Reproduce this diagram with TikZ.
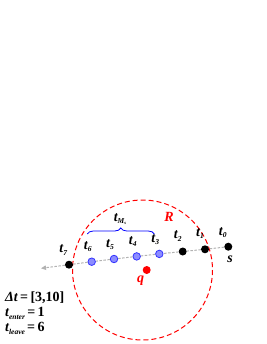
\documentclass[tikz,border=0pt]{standalone}
\usepackage{fontspec}
\setmainfont{Liberation Serif}
\usetikzlibrary{arrows.meta,decorations.pathreplacing}
\newcommand\tlab[1]{\textit{t}\raisebox{-0.35ex}{\fontsize{7.5}{8}\selectfont\textit{#1}}}
\tikzset{
  lab/.style={font=\fontsize{14}{15}\selectfont\bfseries\itshape, inner sep=0pt},
  bdot/.style={circle, fill=black, minimum size=8pt, inner sep=0pt},
  udot/.style={circle, fill=blue!45!white, draw=blue!80!white, line width=0.8pt, minimum size=7.5pt, inner sep=0pt},
  qdot/.style={circle, fill=red, minimum size=8pt, inner sep=0pt},
  traj/.style={gray!60, line width=1pt, dash pattern=on 2.5pt off 1.5pt},
}
\begin{document}
\begin{tikzpicture}[x=1pt,y=-1pt]
\useasboundingbox (0,0) rectangle (266,344);
% region circle
\draw[red, line width=1pt, dash pattern=on 5pt off 3pt] (142.5,270) circle (70);
\node[lab, text=red] (R) at (169,217) {R};
% trajectory
\coordinate (tip) at (41,268.3);
\node[bdot] (p0) at (228.3,246.7) {};
\node[bdot] (p1) at (205,249.3) {};
\node[bdot] (p2) at (182.7,251.5) {};
\node[udot] (p3) at (159.3,253.9) {};
\node[udot] (p4) at (136.7,256.4) {};
\node[udot] (p5) at (114,259) {};
\node[udot] (p6) at (91.7,261.7) {};
\node[bdot] (p7) at (69,264.7) {};
\draw[traj, -{Triangle[length=5pt,width=4.5pt]}] (p0) -- (p1) -- (p2) -- (p3) -- (p4) -- (p5) -- (p6) -- (p7) -- (tip);
% labels
\node[lab] (l0) at (222.7,232.7) {\tlab{0}};
\node[lab] (l1) at (200,233.5) {\tlab{1}};
\node[lab] (l2) at (177.7,236) {\tlab{2}};
\node[lab] (l3) at (155.3,239.3) {\tlab{3}};
\node[lab] (l4) at (132.7,241.7) {\tlab{4}};
\node[lab] (l5) at (110,244.3) {\tlab{5}};
\node[lab] (l6) at (87.7,246.7) {\tlab{6}};
\node[lab] (l7) at (63.3,250) {\tlab{7}};
\node[lab] (s) at (230,259.5) {s};
% query
\node[qdot] (q) at (146.7,270) {};
\node[lab, text=red] (ql) at (140.7,281) {q};
% brace
\coordinate (b1) at (87.3,234);
\coordinate (b2) at (154.3,234);
\draw[blue, line width=0.8pt, decorate, decoration={brace, amplitude=6pt}] (b1) -- (b2);
\node[lab] (tm) at (120,219) {\textit{t}\raisebox{-0.4ex}{\fontsize{7.5}{8}\selectfont\textit{M}\raisebox{-0.3ex}{\fontsize{4.5}{5}\selectfont s}}};
% text
\node[lab, anchor=west] (dt) at (5,298) {\textit{Δt}\,\textup{=\,[3,10]}};
\node[lab, anchor=west] (te) at (5,313.5) {\tlab{enter}\,\textup{=\,1}};
\node[lab, anchor=west] (tl) at (5,328.5) {\tlab{leave}\,\textup{=\,6}};
\end{tikzpicture}
\end{document}
